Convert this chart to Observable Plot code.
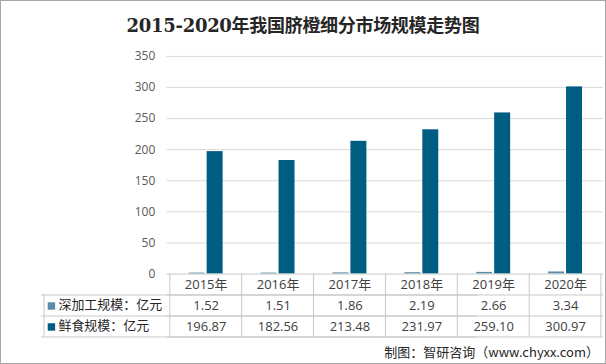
<!DOCTYPE html>
<html><head><meta charset="utf-8">
<script src="https://cdn.jsdelivr.net/npm/d3@7"></script>
<script src="https://cdn.jsdelivr.net/npm/@observablehq/plot@0.6"></script>
<style>
html,body{margin:0;padding:0;background:#fff;}
#wrap{position:relative;width:606px;height:364px;box-sizing:border-box;border:1px solid #a6a6a6;overflow:hidden;font-family:"Noto Sans CJK SC","Noto Sans",sans-serif;}
#title{position:absolute;left:0;right:0;top:10px;text-align:center;font-family:"DejaVu Serif","Noto Sans CJK SC",serif;font-weight:bold;font-size:18px;color:#262626;letter-spacing:-0.3px;}
#foot{position:absolute;right:6px;top:341px;font-size:13px;color:#262626;white-space:nowrap;}
#chart{position:absolute;left:-1px;top:-1px;}
</style></head>
<body><div id="wrap"><div id="chart"></div><div id="title">2015-2020年我国脐橙细分市场规模走势图</div><div id="foot">制图：智研咨询（www.chyxx.com）</div></div>
<script>
const years = ["2015年","2016年","2017年","2018年","2019年","2020年"];
const deepProc = [1.52,1.51,1.86,2.19,2.66,3.34];
const fresh = [196.87,182.56,213.48,231.97,259.10,300.97];
const seriesNames = ["深加工规模：亿元","鲜食规模：亿元"];
const seriesColors = ["#5b8ba6","#005d82"];
const yTicks = [0,50,100,150,200,250,300,350];

const W = 606, H = 364, mL = 167, mR = 2, mT = 56, mB = 90;
const bw = (W - mL - mR) / years.length;
const rowA = deepProc.map((v,i)=>({year:years[i], v}));
const rowB = fresh.map((v,i)=>({year:years[i], v}));
const lineCol = "#c8c8c8";
const txtCol = "#404040";
const fontTable = 13;

const plot = Plot.plot({
  width: W, height: H,
  marginLeft: mL, marginRight: mR, marginTop: mT, marginBottom: mB,
  style: {background: "transparent", fontFamily: "'Open Sans','Noto Sans CJK SC',sans-serif"},
  x: {type: "band", domain: years, padding: 0, axis: null},
  y: {domain: [0, 350], axis: null},
  marks: [
    Plot.gridY(yTicks.filter(d=>d>0), {stroke: "#d9d9d9", strokeOpacity: 1}),
    Plot.axisY(yTicks, {label: null, tickSize: 0, tickPadding: 12, fontSize: 12, color: "#595959", fill: "#595959"}),
    Plot.barY(rowA, {x: "year", y: "v", fill: seriesColors[0], insetLeft: 19, insetRight: 37}),
    Plot.barY(rowB, {x: "year", y: "v", fill: seriesColors[1], insetLeft: 37, insetRight: 19}),
    // table horizontal lines
    Plot.ruleY([0], {stroke: lineCol}),
    Plot.ruleY([0], {stroke: lineCol, dy: 21}),
    Plot.ruleY([0], {stroke: lineCol, dy: 42}),
    Plot.ruleY([0], {stroke: lineCol, dy: 63}),
    Plot.ruleY([0], {stroke: lineCol, dy: 21, dx: -126}),
    Plot.ruleY([0], {stroke: lineCol, dy: 42, dx: -126}),
    Plot.ruleY([0], {stroke: lineCol, dy: 63, dx: -126}),
    // table vertical lines
    Plot.ruleX(years, {x: d=>d, stroke: lineCol, dx: -bw/2, insetTop: H - mB - mT, insetBottom: -63}),
    Plot.ruleX([years[years.length-1]], {x: d=>d, stroke: lineCol, dx: bw/2 - 1, insetTop: H - mB - mT, insetBottom: -63}),
    Plot.ruleX([years[0]], {x: d=>d, stroke: lineCol, dx: -bw/2 - 126, insetTop: H - mB - mT + 21, insetBottom: -63}),
    // header row
    Plot.text(years, {x: d=>d, frameAnchor: "bottom", dy: 15, fontSize: fontTable, fill: txtCol}),
    // value rows
    Plot.text(rowA, {x: "year", text: d=>d.v.toFixed(2), frameAnchor: "bottom", dy: 36, fontSize: fontTable, fill: txtCol}),
    Plot.text(rowB, {x: "year", text: d=>d.v.toFixed(2), frameAnchor: "bottom", dy: 57, fontSize: fontTable, fill: txtCol}),
    // row labels with legend swatches
    Plot.dot([seriesNames[0]], {frameAnchor: "bottom-left", symbol: "square", r: 4.2, fill: seriesColors[0], dx: -116, dy: 32}),
    Plot.dot([seriesNames[1]], {frameAnchor: "bottom-left", symbol: "square", r: 4.2, fill: seriesColors[1], dx: -116, dy: 53}),
    Plot.text([seriesNames[0]], {text: d=>d, frameAnchor: "bottom-left", textAnchor: "start", dx: -109, dy: 35, fontSize: 13, fill: "#262626", fontFamily: "'Noto Sans CJK SC',sans-serif"}),
    Plot.text([seriesNames[1]], {text: d=>d, frameAnchor: "bottom-left", textAnchor: "start", dx: -109, dy: 56, fontSize: 13, fill: "#262626", fontFamily: "'Noto Sans CJK SC',sans-serif"})
  ]
});
document.getElementById("chart").appendChild(plot);
</script>
</body></html>
